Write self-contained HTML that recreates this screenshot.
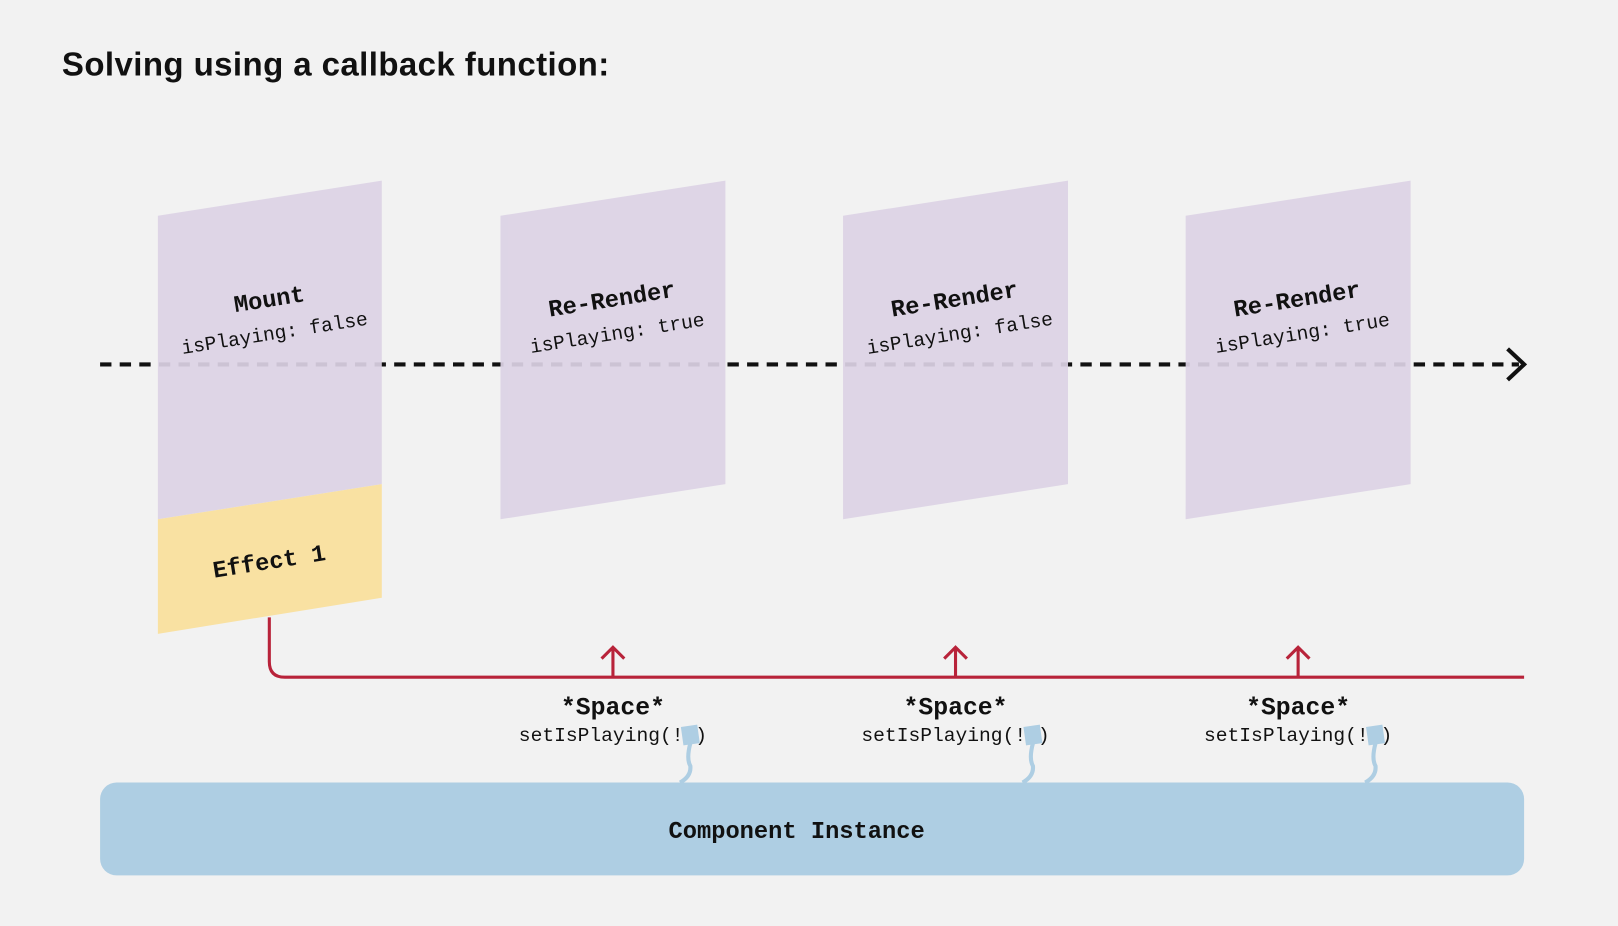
<!DOCTYPE html>
<html><head><meta charset="utf-8"><style>
html,body{margin:0;padding:0;background:#f2f2f2;}
svg{display:block}
</style></head><body>
<svg width="1618" height="926" viewBox="0 0 1568 897" preserveAspectRatio="none" xmlns="http://www.w3.org/2000/svg">
<rect width="1568" height="897" fill="#f2f2f2"/>
<text x="60" y="73" font-family="Liberation Sans, sans-serif" font-weight="bold" font-size="32" letter-spacing="0.4" fill="#111">Solving using a callback function:</text>
<line x1="97" y1="353" x2="1472" y2="353" stroke="#111" stroke-width="4" stroke-dasharray="11 8"/>
<polyline points="1461,338 1477,353 1461,368" fill="none" stroke="#111" stroke-width="4"/>
<g opacity="0.92">
<polygon points="153,209 370,175 370,469 153,503" fill="#dcd3e5"/>
<polygon points="485,209 703,175 703,469 485,503" fill="#dcd3e5"/>
<polygon points="817,209 1035,175 1035,469 817,503" fill="#dcd3e5"/>
<polygon points="1149,209 1367,175 1367,469 1149,503" fill="#dcd3e5"/>
</g>
<polygon points="153,503 370,469 370,579 153,614" fill="#f9e1a2"/>
<g font-family="Liberation Mono, DejaVu Sans Mono, monospace" fill="#111" text-anchor="middle">
<g transform="translate(262,297) rotate(-9)"><text y="0" font-size="23" font-weight="bold">Mount</text><text y="32" font-size="19">isPlaying: false</text></g>
<g transform="translate(594,297) rotate(-9)"><text y="0" font-size="23" font-weight="bold">Re-Render</text><text y="32" font-size="19">isPlaying: true</text></g>
<g transform="translate(926,297) rotate(-9)"><text y="0" font-size="23" font-weight="bold">Re-Render</text><text y="32" font-size="19">isPlaying: false</text></g>
<g transform="translate(1258,297) rotate(-9)"><text y="0" font-size="23" font-weight="bold">Re-Render</text><text y="32" font-size="19">isPlaying: true</text></g>
<g transform="translate(262,551) rotate(-9)"><text y="0" font-size="23" font-weight="bold">Effect 1</text></g>
</g>
<path d="M261,598 V641 Q261,656 276,656 H1477" fill="none" stroke="#b8233a" stroke-width="3"/>
<g stroke="#b8233a" stroke-width="3" fill="none">
<path d="M594,656 V627 M583,638 L594,627 L605,638"/>
<path d="M926,656 V627 M915,638 L926,627 L937,638"/>
<path d="M1258,656 V627 M1247,638 L1258,627 L1269,638"/>
</g>
<rect x="97" y="758" width="1380" height="90" rx="16" fill="#aecee3"/>
<text x="772" y="812" text-anchor="middle" font-family="Liberation Mono, DejaVu Sans Mono, monospace" font-weight="bold" font-size="23" fill="#111">Component Instance</text>
<g font-family="Liberation Mono, DejaVu Sans Mono, monospace" fill="#111" text-anchor="middle">
<text x="594" y="692" font-size="24" font-weight="bold">*Space*</text><text x="594" y="718" font-size="19">setIsPlaying(!  )</text>
<text x="926" y="692" font-size="24" font-weight="bold">*Space*</text><text x="926" y="718" font-size="19">setIsPlaying(!  )</text>
<text x="1258" y="692" font-size="24" font-weight="bold">*Space*</text><text x="1258" y="718" font-size="19">setIsPlaying(!  )</text>
</g>
<g fill="#aecee3" stroke="#aecee3">
<g transform="translate(669,712) rotate(-8)"><rect x="-8" y="-9" width="16" height="18" stroke="none"/></g>
<path d="M669,720 Q665,735 669,742 Q670,752 659,758" fill="none" stroke-width="4"/>
<g transform="translate(1001,712) rotate(-8)"><rect x="-8" y="-9" width="16" height="18" stroke="none"/></g>
<path d="M1001,720 Q997,735 1001,742 Q1002,752 991,758" fill="none" stroke-width="4"/>
<g transform="translate(1333,712) rotate(-8)"><rect x="-8" y="-9" width="16" height="18" stroke="none"/></g>
<path d="M1333,720 Q1329,735 1333,742 Q1334,752 1323,758" fill="none" stroke-width="4"/>
</g>
</svg>
</body></html>
